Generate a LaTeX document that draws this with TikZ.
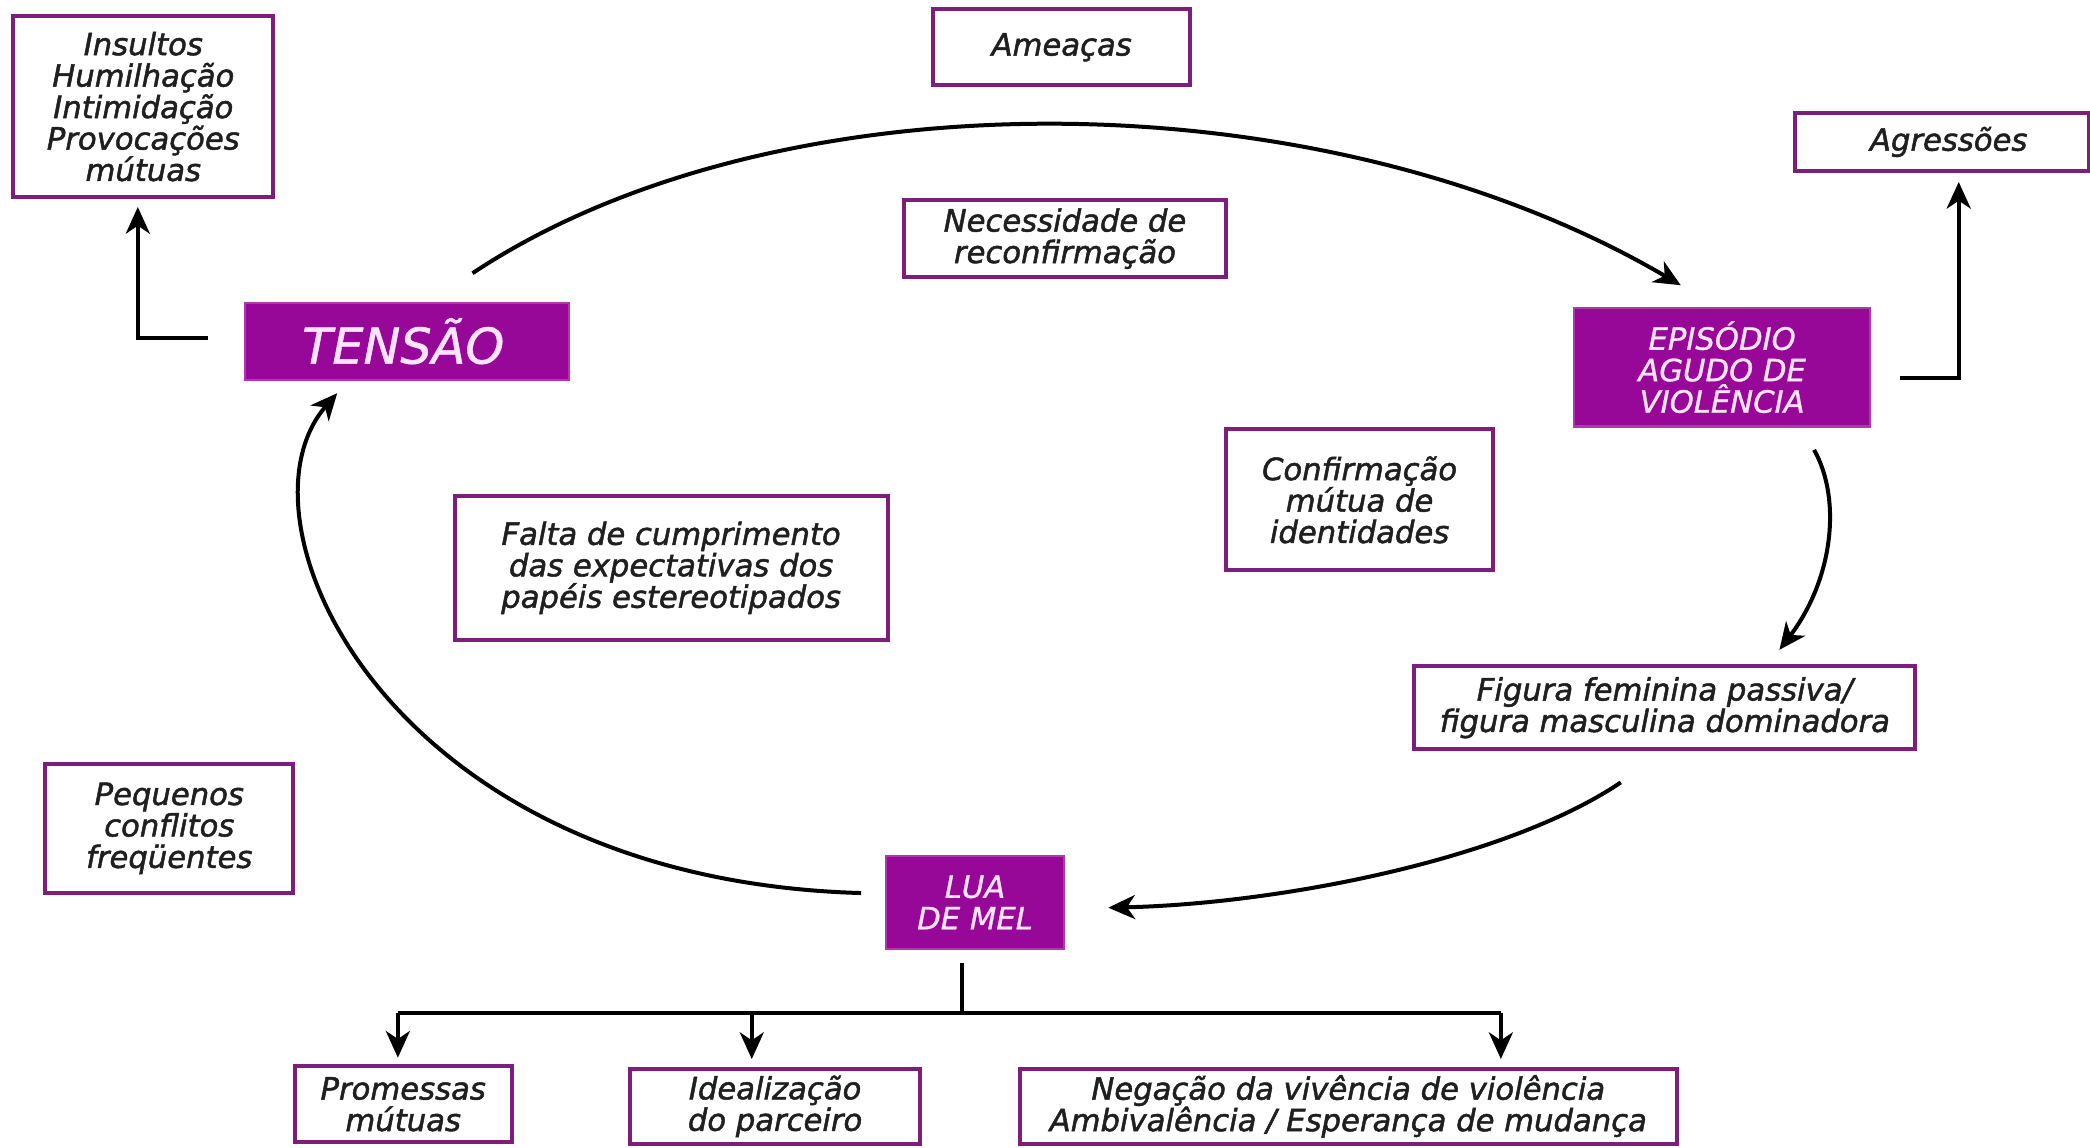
\documentclass[tikz,border=0pt]{standalone}
\usepackage{fontspec}
\usetikzlibrary{arrows.meta}
\newfontfamily\diagfont{DejaVu Sans Oblique}[FakeBold=1.6]
\newfontfamily\headfont{DejaVu Sans Oblique}[FakeBold=1.0]
\definecolor{pfill}{RGB}{152,8,152}
\definecolor{pline}{RGB}{125,30,125}
\definecolor{ptext}{RGB}{255,228,255}
\tikzset{
  wbox/.style={draw=pline, line width=1.5pt, fill=white, inner sep=0pt, align=center,
    font={\diagfont\fontsize{11.5}{11.8}\selectfont}, text=black!88},
  pbox/.style={draw=pfill!80!white, line width=0.8pt, fill=pfill, inner sep=0pt, align=center,
    font={\headfont\fontsize{11.5}{11.8}\selectfont}, text=ptext},
  ln/.style={line width=1.5pt, black},
  arr/.style={ln, -{Stealth[length=10pt,width=9pt,inset=3pt]}}
}
\begin{document}
\begin{tikzpicture}[x=0.5pt,y=-0.5pt]
\useasboundingbox (0,0) rectangle (1568,861);
% nodes
\node[wbox, minimum width=97.5pt, minimum height=68pt] (ins) at (107.5,80) {Insultos\\Humilhação\\Intimidação\\Provocações\\mútuas};
\node[wbox, minimum width=96.5pt, minimum height=28.5pt] (ame) at (796.5,35.5) {Ameaças};
\node[wbox, minimum width=110pt, minimum height=21.5pt] (agr) at (1457,106.5) {\hspace*{5pt}Agressões};
\node[wbox, minimum width=121pt, minimum height=29pt] (nec) at (799,179) {Necessidade de\\reconfirmação};
\node[pbox, minimum width=121.5pt, minimum height=29pt, font={\headfont\fontsize{18.5}{20}\selectfont}] (ten) at (305.5,256) {TENSÃO\hspace*{3pt}};
\node[pbox, minimum width=111pt, minimum height=44.5pt] (epi) at (1292,275.5) {EPISÓDIO\\AGUDO DE\\VIOLÊNCIA};
\node[wbox, minimum width=100pt, minimum height=53pt] (con) at (1020,375) {Confirmação\\mútua de\\identidades};
\node[wbox, minimum width=162.5pt, minimum height=54pt] (fal) at (503.5,426) {Falta de cumprimento\\das expectativas dos\\papéis estereotipados};
\node[wbox, minimum width=188pt, minimum height=31pt] (fig) at (1249,531) {Figura feminina passiva/\\figura masculina dominadora};
\node[wbox, minimum width=93pt, minimum height=48.5pt] (peq) at (127,621.5) {Pequenos\\conflitos\\freqüentes};
\node[pbox, minimum width=66.5pt, minimum height=35pt] (lua) at (731.5,677) {LUA\\DE MEL};
\node[wbox, minimum width=81.5pt, minimum height=28.5pt] (pro) at (302.5,828.5) {Promessas\\mútuas};
\node[wbox, minimum width=108.5pt, minimum height=28pt] (ide) at (581.5,830) {Idealização\\do parceiro};
\node[wbox, minimum width=246.5pt, minimum height=28pt] (neg) at (1011.5,830) {Negação da vivência de violência\\Ambivalência / Esperança de mudança};
% side connectors
\draw[arr, shorten <=13.5pt, shorten >=2.9pt] ([yshift=1.1pt]ten.west) -| ([xshift=-2.05pt]ins.south);
\draw[arr, shorten <=10.75pt, shorten >=3.5pt] ([yshift=-4.1pt]epi.east) -| ([xshift=6.25pt]agr.south);
% cycle arcs
\coordinate (a1s) at (354.5,205);
\coordinate (a1e) at (1261,214);
\coordinate (a2s) at (1361,337.5);
\coordinate (a2e) at (1335,487.5);
\coordinate (a3s) at (1216,587);
\coordinate (a3e) at (831.5,681);
\coordinate (a4s) at (646,670);
\coordinate (a4e) at (253,295);
\draw[arr] (a1s) .. controls (580,55) and (990,55) .. (a1e);
\draw[arr] (a2s) .. controls (1382,375) and (1375,435) .. (a2e);
\draw[arr] (a3s) .. controls (1130,645) and (960,678) .. (a3e);
\draw[arr] (a4s) .. controls (290,660) and (170,390) .. (a4e);
% tree under LUA DE MEL
\coordinate (jm) at (722,760);
\coordinate (jl) at (298.5,760);
\coordinate (ji) at (564,760);
\coordinate (jr) at (1126,760);
\draw[ln, shorten <=4.75pt] (jm |- lua.south) -- (jm);
\draw[ln] (jl) -- (jr);
\draw[arr, shorten >=2.5pt] (jl) -- (jl |- pro.north);
\draw[arr, shorten >=3pt] (ji) -- (ji |- ide.north);
\draw[arr, shorten >=3pt] (jr) -- (jr |- neg.north);
\end{tikzpicture}
\end{document}
